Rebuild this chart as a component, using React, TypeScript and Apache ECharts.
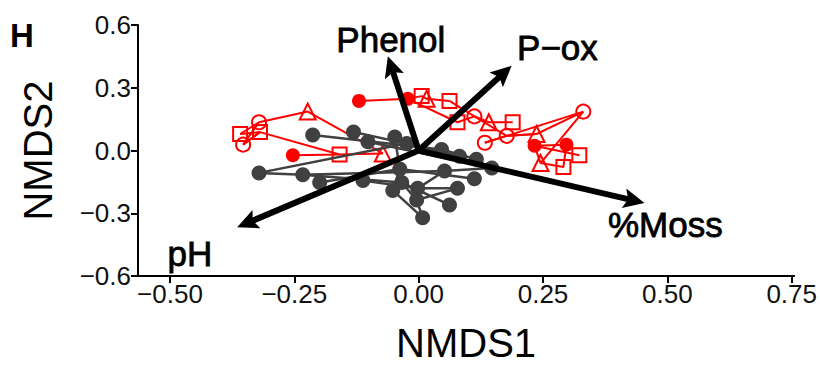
import React, { useEffect, useRef } from "react";
import * as echarts from "echarts";

const FONT = "'Liberation Sans', Arial, Helvetica, sans-serif";
const RED = "#FF0000";
const DARK = "#404040";

const xTicks = [-0.5, -0.25, 0, 0.25, 0.5, 0.75];
const yTicks = [-0.6, -0.3, 0, 0.3, 0.6];

// red group, by marker shape
const redFilled = [[-0.253, -0.023], [-0.12, 0.237], [-0.022, 0.247], [0.233, 0.023], [0.297, 0.028]];
const redCircle = [[-0.321, 0.135], [-0.353, 0.028], [0.112, 0.163], [0.177, 0.07], [0.133, 0.037], [0.331, 0.186]];
const redTriangle = [[-0.223, 0.186], [-0.072, -0.014], [0.016, 0.247], [0.141, 0.135], [0.237, 0.079], [0.245, -0.06]];
const redSquare = [[-0.359, 0.079], [-0.319, 0.088], [-0.159, -0.019], [0.006, 0.26], [0.062, 0.237], [0.078, 0.135], [0.189, 0.135], [0.323, -0.023], [0.291, -0.079]];

// dark group
const darkPts = [
  [-0.321, -0.107], [-0.233, -0.116], [-0.213, 0.074], [-0.199, -0.153], [-0.131, 0.088],
  [-0.102, 0.042], [-0.112, -0.144], [-0.048, 0.065], [-0.024, 0.033], [-0.038, -0.088],
  [-0.052, -0.191], [-0.034, -0.153], [-0.002, -0.181], [-0.004, -0.237], [0.008, -0.321],
  [0.046, 0.005], [0.052, -0.098], [0.082, -0.028], [0.116, -0.042], [0.147, -0.084],
  [0.112, -0.135], [0.078, -0.181], [0.062, -0.26],
];

const redPaths = [
  ["S1", "C1", "T1", "T2"],
  ["C2", "S2", "S3"],
  ["F1", "S3", "T2"],
  ["S1", "S2", "C2", "C1"],
  ["F2", "F3", "S4", "T3", "S5"],
  ["F3", "S6", "C3", "T4", "S7"],
  ["S5", "C3", "C4", "T5", "C6", "C5"],
  ["C6", "T6", "F4", "S8"],
  ["F4", "F5", "S9", "T6"],
  ["C5", "C4", "T5"],
];

const darkPaths = [
  ["D1", "D2", "D17"],
  ["D1", "D9"],
  ["D3", "D16", "D19"],
  ["D5", "D9", "D18"],
  ["D6", "D20"],
  ["D4", "D10", "D21"],
  ["D7", "D13", "D22"],
  ["D2", "D12", "D23"],
  ["D11", "D15", "D14"],
  ["D12", "D14", "D22"],
  ["D8", "D10", "D11"],
  ["D13", "D17", "D20"],
];

// environmental vectors
const vectorNames = ["Phenol", "P\u2212ox", "%Moss", "pH"];
const vectorX = [-0.062, 0.187, 0.454, -0.365];
const vectorY = [0.451, 0.405, -0.251, -0.367];
const vectorLabelX = [-0.056, 0.279, 0.496, -0.46];
const vectorLabelY = [0.53, 0.493, -0.353, -0.493];

const sets: Record<string, number[][]> = { F: redFilled, C: redCircle, T: redTriangle, S: redSquare, D: darkPts };
const pt = (code: string) => sets[code[0]][parseInt(code.slice(1), 10) - 1];

const fmt = (v: number, d: number) => (v < -1e-9 ? "\u2212" : "") + Math.abs(v).toFixed(d);

export default function App() {
  const ref = useRef<HTMLDivElement>(null);
  useEffect(() => {
    if (!ref.current) return;
    const chart = echarts.init(ref.current, null, { renderer: "svg" });

    const lineSeries = (paths: string[][], color: string, width: number) =>
      paths.map((p) => ({
        type: "line",
        data: p.map(pt),
        symbol: "none",
        silent: true,
        lineStyle: { color, width, opacity: 1 },
        z: 2,
      }));

    const openStyle = { color: "rgba(0,0,0,0)", borderColor: RED, borderWidth: 2, opacity: 1 };

    const option: any = {
      animation: false,
      grid: { left: 138, right: 25, top: 25, bottom: 85 },
      xAxis: {
        type: "value",
        min: -0.5643,
        max: 0.755,
        name: "NMDS1",
        nameLocation: "middle",
        nameGap: 67,
        nameTextStyle: { fontSize: 40, fontFamily: FONT, color: "#000", verticalAlign: "middle" },
        axisLine: { onZero: false, lineStyle: { color: "#000", width: 2 } },
        axisTick: { customValues: xTicks, length: 7, lineStyle: { color: "#000", width: 2 } },
        axisLabel: {
          customValues: xTicks,
          formatter: (v: number) => fmt(v, 2),
          fontSize: 26,
          fontFamily: FONT,
          color: "#111",
          margin: 5,
        },
        splitLine: { show: false },
      },
      yAxis: {
        type: "value",
        min: -0.6,
        max: 0.6,
        name: "NMDS2",
        nameLocation: "middle",
        nameGap: 100,
        nameRotate: 90,
        nameTextStyle: { fontSize: 40, fontFamily: FONT, color: "#000", verticalAlign: "middle" },
        axisLine: { onZero: false, lineStyle: { color: "#000", width: 2 } },
        axisTick: { customValues: yTicks, length: 7, lineStyle: { color: "#000", width: 2 } },
        axisLabel: {
          customValues: yTicks,
          formatter: (v: number) => fmt(v, 1),
          fontSize: 26,
          fontFamily: FONT,
          color: "#111",
          margin: 7,
        },
        splitLine: { show: false },
      },
      graphic: [
        {
          type: "text",
          left: 10,
          top: 19,
          style: { text: "H", fontSize: 33, fontWeight: "bold", fontFamily: FONT, fill: "#000" },
        },
      ],
      series: [
        ...lineSeries(redPaths, RED, 2),
        { type: "scatter", data: redFilled, symbol: "circle", symbolSize: 14, itemStyle: { color: RED, opacity: 1 }, z: 3 },
        { type: "scatter", data: redCircle, symbol: "circle", symbolSize: 14, itemStyle: openStyle, z: 3 },
        { type: "scatter", data: redTriangle, symbol: "triangle", symbolSize: 16, itemStyle: openStyle, z: 3 },
        { type: "scatter", data: redSquare, symbol: "rect", symbolSize: 14, itemStyle: openStyle, z: 3 },
        ...lineSeries(darkPaths, DARK, 2.5).map((s) => ({ ...s, z: 4 })),
        { type: "scatter", data: darkPts, symbol: "circle", symbolSize: 15, itemStyle: { color: DARK, opacity: 1 }, z: 5 },
        {
          type: "custom",
          coordinateSystem: "cartesian2d",
          data: vectorX.map((x, i) => [x, vectorY[i]]),
          silent: true,
          z: 10,
          renderItem: (params: any, api: any) => {
            const o = api.coord([0, 0]);
            const t = api.coord([api.value(0), api.value(1)]);
            const dx = t[0] - o[0];
            const dy = t[1] - o[1];
            const L = Math.hypot(dx, dy);
            const ux = dx / L;
            const uy = dy / L;
            const head = 21;
            const half = 10;
            const bx = t[0] - ux * head;
            const by = t[1] - uy * head;
            return {
              type: "group",
              children: [
                {
                  type: "line",
                  shape: { x1: o[0], y1: o[1], x2: t[0] - ux * head * 0.6, y2: t[1] - uy * head * 0.6 },
                  style: { stroke: "#000", lineWidth: 6 },
                },
                {
                  type: "polygon",
                  shape: {
                    points: [
                      [t[0], t[1]],
                      [bx - uy * half, by + ux * half],
                      [t[0] - ux * head * 0.8, t[1] - uy * head * 0.8],
                      [bx + uy * half, by - ux * half],
                    ],
                  },
                  style: { fill: "#000" },
                },
              ],
            };
          },
        },
        {
          type: "custom",
          coordinateSystem: "cartesian2d",
          data: vectorLabelX.map((x, i) => [x, vectorLabelY[i]]),
          silent: true,
          z: 11,
          renderItem: (params: any, api: any) => {
            const p = api.coord([api.value(0), api.value(1)]);
            return {
              type: "text",
              x: p[0],
              y: p[1],
              style: {
                text: vectorNames[params.dataIndex],
                fill: "#000",
                fontSize: 35,
                fontWeight: "normal",
                fontFamily: FONT,
                align: "center",
                verticalAlign: "middle",
                stroke: "#000",
                lineWidth: 0.8,
              },
            };
          },
        },
      ],
    };
    chart.setOption(option);
    return () => chart.dispose();
  }, []);
  return <div ref={ref} style={{ width: 820, height: 368, position: "absolute", left: 0, top: 0 }} />;
}
